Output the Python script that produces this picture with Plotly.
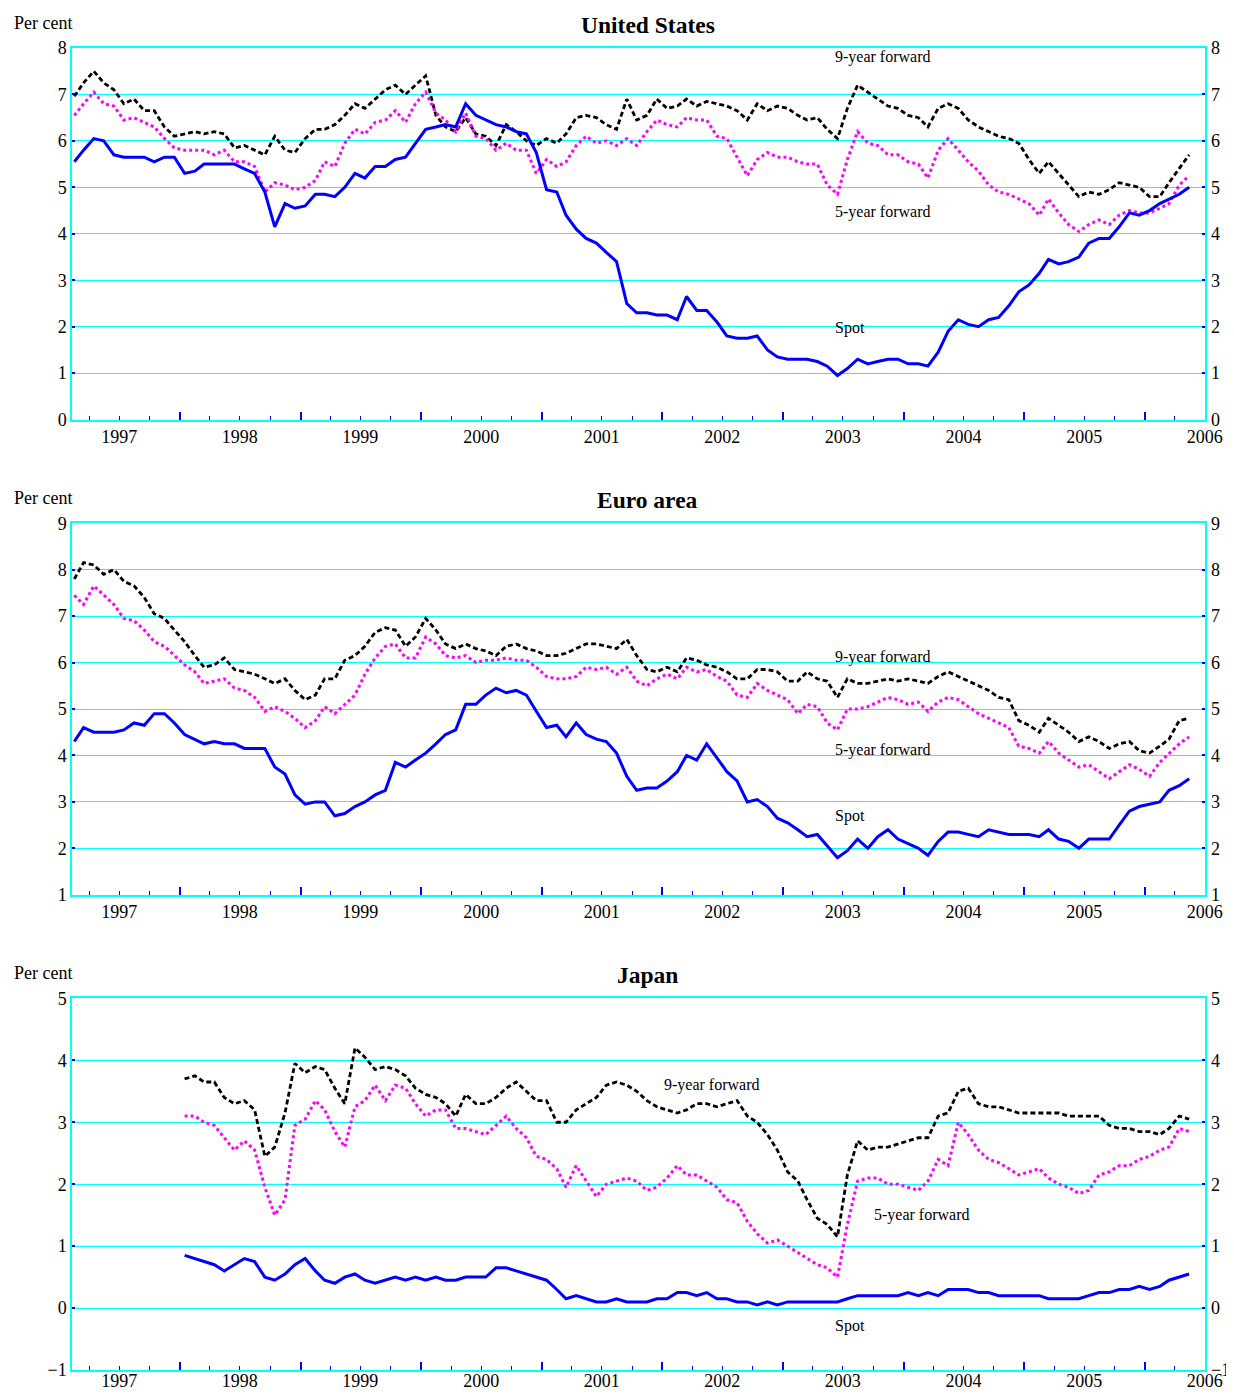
import plotly.graph_objects as go
import pandas as pd

# ---------------- data (per cent), monthly readings ----------------
months = pd.date_range("1997-02-01", periods=112, freq="MS") + pd.Timedelta(days=14)
japan_months = months[11:]

us_fwd9 = [6.96, 7.25, 7.5, 7.25, 7.1, 6.8, 6.9, 6.65, 6.65, 6.3,
           6.1, 6.15, 6.2, 6.15, 6.2, 6.15, 5.85, 5.9, 5.8, 5.7,
           6.1, 5.8, 5.75, 6.05, 6.25, 6.25, 6.35, 6.55, 6.8, 6.7,
           6.9, 7.1, 7.2, 7.0, 7.2, 7.4, 6.55, 6.3, 6.2, 6.5,
           6.15, 6.1, 5.9, 6.35, 6.2, 6.0, 5.9, 6.05, 5.95, 6.15,
           6.5, 6.55, 6.5, 6.35, 6.25, 6.9, 6.45,
           6.55, 6.9, 6.7, 6.75, 6.9, 6.75, 6.85, 6.8, 6.75, 6.65,
           6.45, 6.8, 6.65, 6.75, 6.7, 6.55, 6.45, 6.5, 6.25, 6.05,
           6.7, 7.2, 7.05, 6.9, 6.75, 6.7, 6.55, 6.5, 6.3, 6.7,
           6.8, 6.7, 6.45, 6.3, 6.2, 6.1, 6.05, 5.95, 5.6, 5.3,
           5.55, 5.3, 5.05, 4.8, 4.9, 4.85, 4.95, 5.1, 5.05, 5.0,
           4.8, 4.8, 5.1, 5.4, 5.7]
us_fwd5 = [6.55, 6.8, 7.05, 6.8, 6.75, 6.45, 6.5, 6.4, 6.3, 6.05,
           5.85, 5.8, 5.8, 5.8, 5.7, 5.8, 5.55, 5.55, 5.45, 4.9,
           5.1, 5.05, 4.95, 5.0, 5.15, 5.55, 5.45, 5.95, 6.25, 6.15,
           6.4, 6.45, 6.65, 6.4, 6.8, 7.05, 6.6, 6.45, 6.2, 6.6,
           6.1, 6.05, 5.8, 5.95, 5.8, 5.8, 5.3, 5.6, 5.45, 5.55,
           5.9, 6.1, 5.95, 6.0, 5.9, 6.05, 5.9,
           6.2, 6.45, 6.35, 6.3, 6.5, 6.45, 6.45, 6.1, 6.05, 5.65,
           5.25, 5.6, 5.75, 5.65, 5.65, 5.55, 5.5, 5.5, 5.05, 4.85,
           5.6, 6.2, 5.95, 5.9, 5.7, 5.7, 5.55, 5.5, 5.2, 5.8,
           6.05, 5.8, 5.55, 5.35, 5.05, 4.9, 4.85, 4.75, 4.65, 4.4,
           4.75, 4.45, 4.2, 4.05, 4.2, 4.3, 4.2, 4.4, 4.5, 4.45,
           4.45, 4.55, 4.65, 5.05, 5.25]
us_spot = [5.55, 5.8, 6.05, 6.0, 5.7, 5.65, 5.65, 5.65, 5.55, 5.65,
           5.65, 5.3, 5.35, 5.5, 5.5, 5.5, 5.5, 5.4, 5.3, 4.9,
           4.15, 4.65, 4.55, 4.6, 4.85, 4.85, 4.8, 5.0, 5.3, 5.2,
           5.45, 5.45, 5.6, 5.65, 5.95, 6.25, 6.3, 6.35, 6.3, 6.8,
           6.55, 6.45, 6.35, 6.3, 6.2, 6.15, 5.75, 4.95, 4.9, 4.4,
           4.1, 3.9, 3.8, 3.6, 3.4, 2.5, 2.3,
           2.3, 2.25, 2.25, 2.15, 2.65, 2.35, 2.35, 2.1, 1.8, 1.75,
           1.75, 1.8, 1.5, 1.35, 1.3, 1.3, 1.3, 1.25, 1.15, 0.95,
           1.1, 1.3, 1.2, 1.25, 1.3, 1.3, 1.2, 1.2, 1.15, 1.45,
           1.9, 2.15, 2.05, 2.0, 2.15, 2.2, 2.45, 2.75, 2.9, 3.15,
           3.45, 3.35, 3.4, 3.5, 3.8, 3.9, 3.9, 4.15, 4.45, 4.4,
           4.5, 4.65, 4.75, 4.85, 5.0]

ea_fwd9 = [7.8, 8.15, 8.1, 7.9, 8.0, 7.75, 7.65, 7.4, 7.05, 6.95,
           6.7, 6.45, 6.15, 5.9, 5.95, 6.1, 5.85, 5.8, 5.75, 5.65,
           5.55, 5.65, 5.4, 5.2, 5.3, 5.65, 5.65, 6.05, 6.15, 6.35,
           6.65, 6.75, 6.7, 6.35, 6.55, 6.95, 6.7, 6.4, 6.3, 6.4,
           6.3, 6.25, 6.15, 6.35, 6.4, 6.3, 6.25, 6.15, 6.15, 6.2,
           6.3, 6.4, 6.4, 6.35, 6.3, 6.5, 6.15,
           5.85, 5.8, 5.9, 5.8, 6.1, 6.05, 5.95, 5.9, 5.8, 5.65,
           5.65, 5.85, 5.85, 5.8, 5.6, 5.6, 5.8, 5.65, 5.6, 5.25,
           5.65, 5.55, 5.55, 5.6, 5.65, 5.6, 5.65, 5.6, 5.55, 5.7,
           5.8, 5.7, 5.6, 5.5, 5.4, 5.25, 5.2, 4.75, 4.65, 4.5,
           4.8, 4.65, 4.5, 4.3, 4.4, 4.3, 4.15, 4.25, 4.3, 4.1,
           4.05, 4.2, 4.35, 4.75, 4.8]
ea_fwd5 = [7.45, 7.25, 7.65, 7.45, 7.25, 6.95, 6.9, 6.7, 6.45, 6.35,
           6.15, 5.95, 5.8, 5.55, 5.6, 5.65, 5.45, 5.4, 5.25, 4.95,
           5.05, 4.95, 4.8, 4.6, 4.75, 5.05, 4.9, 5.1, 5.3, 5.75,
           6.1, 6.35, 6.4, 6.1, 6.1, 6.55, 6.4, 6.15, 6.1, 6.15,
           6.0, 6.05, 6.05, 6.1, 6.05, 6.05, 5.9, 5.7, 5.65, 5.65,
           5.7, 5.9, 5.85, 5.9, 5.75, 5.9, 5.6,
           5.5, 5.65, 5.75, 5.65, 5.9, 5.8, 5.85, 5.7, 5.6, 5.3,
           5.25, 5.55, 5.4, 5.3, 5.2, 4.9, 5.1, 5.05, 4.7, 4.55,
           5.0, 5.0, 5.05, 5.15, 5.25, 5.2, 5.1, 5.15, 4.95, 5.15,
           5.25, 5.2, 5.05, 4.9, 4.8, 4.7, 4.6, 4.2, 4.15, 4.05,
           4.3, 4.05, 3.9, 3.75, 3.8, 3.65, 3.5, 3.65, 3.8, 3.7,
           3.55, 3.85, 4.05, 4.25, 4.4]
ea_spot = [4.3, 4.6, 4.5, 4.5, 4.5, 4.55, 4.7, 4.65, 4.9, 4.9,
           4.7, 4.45, 4.35, 4.25, 4.3, 4.25, 4.25, 4.15, 4.15, 4.15,
           3.75, 3.6, 3.15, 2.95, 3.0, 3.0, 2.7, 2.75, 2.9, 3.0,
           3.15, 3.25, 3.85, 3.75, 3.9, 4.05, 4.25, 4.45, 4.55, 5.1,
           5.1, 5.3, 5.45, 5.35, 5.4, 5.3, 4.95, 4.6, 4.65, 4.4,
           4.7, 4.45, 4.35, 4.3, 4.05, 3.55, 3.25,
           3.3, 3.3, 3.45, 3.65, 4.0, 3.9, 4.25, 3.95, 3.65, 3.45,
           3.0, 3.05, 2.9, 2.65, 2.55, 2.4, 2.25, 2.3, 2.05, 1.8,
           1.95, 2.2, 2.0, 2.25, 2.4, 2.2, 2.1, 2.0, 1.85, 2.15,
           2.35, 2.35, 2.3, 2.25, 2.4, 2.35, 2.3, 2.3, 2.3, 2.25,
           2.4, 2.2, 2.15, 2.0, 2.2, 2.2, 2.2, 2.5, 2.8, 2.9,
           2.95, 3.0, 3.25, 3.35, 3.5]

jp_fwd9 = [3.7, 3.75, 3.65, 3.65, 3.4, 3.3, 3.35, 3.2, 2.45, 2.6,
           3.15, 3.95, 3.8, 3.9, 3.85, 3.55, 3.3, 4.2, 4.05, 3.85,
           3.9, 3.85, 3.75, 3.55, 3.45, 3.4, 3.3, 3.1, 3.45, 3.3,
           3.3, 3.4, 3.55, 3.65, 3.5, 3.35, 3.35, 3.0, 3.0, 3.2,
           3.3, 3.4, 3.6, 3.65, 3.6, 3.5, 3.35, 3.25, 3.2, 3.15,
           3.2, 3.3, 3.3, 3.25, 3.3, 3.35, 3.1, 3.0, 2.8, 2.55,
           2.2, 2.05, 1.75, 1.45, 1.35, 1.15, 2.15, 2.7, 2.55, 2.6,
           2.6, 2.65, 2.7, 2.75, 2.75, 3.1, 3.15, 3.5, 3.55, 3.3,
           3.25, 3.25, 3.2, 3.15, 3.15, 3.15, 3.15, 3.15, 3.1, 3.1,
           3.1, 3.1, 2.95, 2.9, 2.9, 2.85, 2.85, 2.8, 2.9, 3.1, 3.05]
jp_fwd5 = [3.1, 3.1, 3.0, 2.95, 2.75, 2.55, 2.7, 2.55, 1.95, 1.5,
           1.75, 2.95, 3.05, 3.35, 3.2, 2.85, 2.6, 3.25, 3.35, 3.6,
           3.35, 3.6, 3.55, 3.3, 3.1, 3.2, 3.2, 2.9, 2.9, 2.85,
           2.8, 2.95, 3.1, 2.9, 2.75, 2.45, 2.4, 2.25, 1.95, 2.3,
           2.05, 1.8, 2.0, 2.05, 2.1, 2.05, 1.9, 1.95, 2.1, 2.3,
           2.15, 2.15, 2.05, 1.95, 1.75, 1.7, 1.4, 1.2, 1.05, 1.1,
           1.0, 0.9, 0.8, 0.7, 0.65, 0.5, 1.35, 2.05, 2.1, 2.1,
           2.0, 2.0, 1.95, 1.9, 2.05, 2.4, 2.3, 3.0, 2.8, 2.55,
           2.4, 2.35, 2.25, 2.15, 2.2, 2.25, 2.1, 2.0, 1.95, 1.85,
           1.9, 2.15, 2.2, 2.3, 2.3, 2.4, 2.45, 2.55, 2.6, 2.9, 2.85]
jp_spot = [0.85, 0.8, 0.75, 0.7, 0.6, 0.7, 0.8, 0.75, 0.5, 0.45,
           0.55, 0.7, 0.8, 0.6, 0.45, 0.4, 0.5, 0.55, 0.45, 0.4,
           0.45, 0.5, 0.45, 0.5, 0.45, 0.5, 0.45, 0.45, 0.5, 0.5,
           0.5, 0.65, 0.65, 0.6, 0.55, 0.5, 0.45, 0.3, 0.15, 0.2,
           0.15, 0.1, 0.1, 0.15, 0.1, 0.1, 0.1, 0.15, 0.15, 0.25,
           0.25, 0.2, 0.25, 0.15, 0.15, 0.1, 0.1, 0.05, 0.1, 0.05,
           0.1, 0.1, 0.1, 0.1, 0.1, 0.1, 0.15, 0.2, 0.2, 0.2,
           0.2, 0.2, 0.25, 0.2, 0.25, 0.2, 0.3, 0.3, 0.3, 0.25,
           0.25, 0.2, 0.2, 0.2, 0.2, 0.2, 0.15, 0.15, 0.15, 0.15,
           0.2, 0.25, 0.25, 0.3, 0.3, 0.35, 0.3, 0.35, 0.45, 0.5, 0.55]

year_labels = [str(y) for y in range(1997, 2007)]
panel_titles = ["United States", "Euro area", "Japan"]
y_ranges = [(0, 8), (1, 9), (-1, 5)]

assert len(us_fwd9) == len(us_fwd5) == len(us_spot) == 112
assert len(ea_fwd9) == len(ea_fwd5) == len(ea_spot) == 112
assert len(jp_fwd9) == len(jp_fwd5) == len(jp_spot) == 101

# text-label placements (date, value) for the series names in each panel
label_pos = [
    {"9-year forward": ("2003-06-01", 7.8), "5-year forward": ("2003-06-01", 4.48), "Spot": ("2003-06-01", 1.98)},
    {"9-year forward": ("2003-06-01", 6.13), "5-year forward": ("2003-06-01", 4.12), "Spot": ("2003-06-01", 2.7)},
    {"9-year forward": ("2002-01-01", 3.6), "5-year forward": ("2003-09-27", 1.51), "Spot": ("2003-06-01", -0.29)},
]

# ---------------- figure ----------------
FONT = "Liberation Serif, Times New Roman, serif"
CYAN = "#00FFFF"
BLUE = "#0000FF"
x_range = ["1997-02-08", "2006-07-02"]

FIG_W, FIG_H = 1234, 1395
MARGIN = dict(l=64, r=20, t=40, b=13)
W_PLOT = FIG_W - MARGIN["l"] - MARGIN["r"]
H_PLOT = FIG_H - MARGIN["t"] - MARGIN["b"]

# panel layout proportions (panel height 373 of 1327, gaps 104)
domains = [(954 / 1327, 1.0), (477 / 1327, 850 / 1327), (0.0, 373 / 1327)]
x_label_standoff = [0, 0, -6]

fig = go.Figure()

panel_data = [
    (months, us_fwd9, us_fwd5, us_spot),
    (months, ea_fwd9, ea_fwd5, ea_spot),
    (japan_months, jp_fwd9, jp_fwd5, jp_spot),
]

layout_axes = {}
annotations = []
for i, (dts, f9, f5, sp) in enumerate(panel_data):
    n = 2 * i + 1
    xl = "x" if n == 1 else f"x{n}"
    yl = "y" if n == 1 else f"y{n}"
    xt = f"x{n + 1}"
    yr_ = f"y{n + 1}"
    xkey = "xaxis" if n == 1 else f"xaxis{n}"
    ykey = "yaxis" if n == 1 else f"yaxis{n}"

    fig.add_trace(go.Scatter(x=dts, y=f9, mode="lines", xaxis=xl, yaxis=yl,
                             line=dict(color="black", width=2.8, dash="5px,3px"),
                             name="9-year forward", showlegend=False))
    fig.add_trace(go.Scatter(x=dts, y=f5, mode="lines", xaxis=xl, yaxis=yl,
                             line=dict(color="#FF00FF", width=3, dash="3px,3px"),
                             name="5-year forward", showlegend=False))
    fig.add_trace(go.Scatter(x=dts, y=sp, mode="lines", xaxis=xl, yaxis=yl,
                             line=dict(color=BLUE, width=3),
                             name="Spot", showlegend=False))
    # invisible carrier trace for the overlay (tick-mark / right-label) axes
    fig.add_trace(go.Scatter(x=[dts[0]], y=[None], mode="lines", xaxis=xt, yaxis=yr_,
                             showlegend=False, hoverinfo="skip"))

    lo, hi = y_ranges[i]
    yticks = list(range(lo, hi + 1))

    layout_axes[xkey] = dict(
        domain=[0, 1], anchor=yl, range=x_range, type="date",
        tickmode="array",
        tickvals=[f"{y}-07-01" for y in range(1997, 2007)],
        ticktext=year_labels, ticks="", showgrid=False,
        ticklabelstandoff=x_label_standoff[i],
        showline=True, linecolor=CYAN, linewidth=1.5, mirror=True,
        tickfont=dict(family=FONT, size=18, color="black"),
        zeroline=False,
    )
    layout_axes[f"xaxis{n + 1}"] = dict(
        overlaying=xl, anchor=yl, range=x_range, type="date",
        tickmode="linear", tick0="1998-01-01", dtick="M12",
        ticks="inside", ticklen=8, tickwidth=1.5, tickcolor=BLUE,
        showticklabels=False, showgrid=False, showline=False, zeroline=False,
        minor=dict(ticks="inside", ticklen=4, tickwidth=1, tickcolor=BLUE,
                   dtick="M3", tick0="1997-01-01", showgrid=False),
    )
    layout_axes[ykey] = dict(
        domain=list(domains[i]), anchor=xl, range=[lo, hi],
        tickmode="array", tickvals=yticks,
        ticks="inside", ticklen=3, tickcolor=BLUE, tickwidth=1.5,
        showgrid=True, gridcolor=CYAN, gridwidth=1, zeroline=False,
        showline=True, linecolor=CYAN, linewidth=1.5, mirror=True,
        tickfont=dict(family=FONT, size=18, color="black"),
    )
    layout_axes[f"yaxis{n + 1}"] = dict(
        overlaying=yl, anchor=xl, side="right", range=[lo, hi],
        tickmode="array", tickvals=yticks,
        ticks="inside", ticklen=3, tickcolor=BLUE, tickwidth=1.5,
        ticklabelstandoff=5,
        showgrid=False, zeroline=False, showline=False,
        tickfont=dict(family=FONT, size=18, color="black"),
    )

    top = domains[i][1]
    annotations.append(dict(text=f"<b>{panel_titles[i]}</b>", xref="paper", yref="paper",
                            x=0.508, y=top + 23.5 / H_PLOT, xanchor="center", yanchor="middle",
                            showarrow=False, font=dict(family=FONT, size=23.5, color="black")))
    annotations.append(dict(text="Per cent", xref="paper", yref="paper",
                            x=-61 / W_PLOT, y=top + 25.5 / H_PLOT, xanchor="left", yanchor="middle",
                            showarrow=False, font=dict(family=FONT, size=18, color="black")))
    for txt, (dx, vy) in label_pos[i].items():
        annotations.append(dict(text=txt, xref=xl, yref=yl, x=dx, y=vy,
                                xanchor="left", yanchor="middle", showarrow=False,
                                font=dict(family=FONT, size=16, color="black")))

fig.update_layout(
    width=FIG_W, height=FIG_H,
    margin=MARGIN,
    paper_bgcolor="white", plot_bgcolor="white",
    showlegend=False,
    annotations=annotations,
    font=dict(family=FONT, size=18, color="black"),
    **layout_axes,
)

fig.write_html("out.html", config={"displayModeBar": False})
